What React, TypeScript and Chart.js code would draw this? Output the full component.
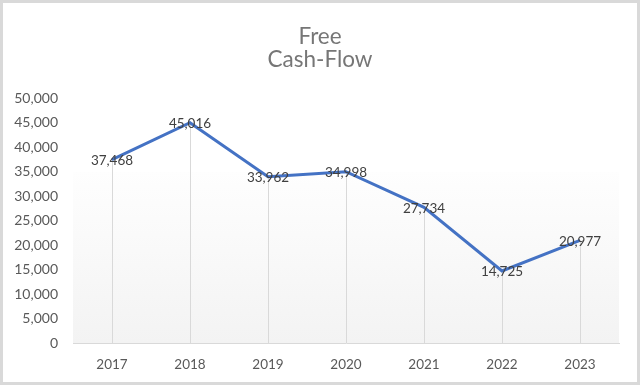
import React, { useEffect, useRef } from "react";
import { Chart, registerables } from "chart.js";

Chart.register(...registerables);

const categories = ["2017", "2018", "2019", "2020", "2021", "2022", "2023"];
const freeCashFlow = [37468, 45016, 33962, 34998, 27734, 14725, 20977];
const titleLines = ["Free", "Cash-Flow"];
const yMin = 0;
const yMax = 50000;
const yStep = 5000;

const FONT = "Lato, 'Noto Sans', sans-serif";

const decorPlugin = {
  id: "decor",
  beforeDraw(chart: any) {
    const { ctx, chartArea, width, height } = chart;
    ctx.save();
    ctx.fillStyle = "#ffffff";
    ctx.fillRect(0, 0, width, height);
    const top = chartArea.top + (chartArea.bottom - chartArea.top) * 0.3;
    const g = ctx.createLinearGradient(0, top, 0, chartArea.bottom);
    g.addColorStop(0, "#fefefe");
    g.addColorStop(1, "#f3f3f3");
    ctx.fillStyle = g;
    ctx.fillRect(chartArea.left, top, chartArea.right - chartArea.left, chartArea.bottom - top);
    ctx.restore();
  },
  beforeDatasetsDraw(chart: any) {
    const { ctx } = chart;
    const meta = chart.getDatasetMeta(0);
    const yScale = chart.scales.y;
    const base = yScale.getPixelForValue(0);
    ctx.save();
    ctx.strokeStyle = "#d9d9d9";
    ctx.lineWidth = 1;
    meta.data.forEach((pt: any) => {
      const x = Math.round(pt.x) + 0.5;
      ctx.beginPath();
      ctx.moveTo(x, pt.y);
      ctx.lineTo(x, base);
      ctx.stroke();
    });
    ctx.restore();
  },
  afterDatasetsDraw(chart: any) {
    const { ctx } = chart;
    const meta = chart.getDatasetMeta(0);
    const data = chart.data.datasets[0].data;
    ctx.save();
    ctx.fillStyle = "#404040";
    ctx.font = `13.5px ${FONT}`;
    ctx.textAlign = "center";
    ctx.textBaseline = "middle";
    meta.data.forEach((pt: any, i: number) => {
      ctx.fillText(Number(data[i]).toLocaleString("en-US"), pt.x, pt.y + 1);
    });
    ctx.restore();
  },
  afterDraw(chart: any) {
    const { ctx, width, height } = chart;
    ctx.save();
    ctx.strokeStyle = "#d9d9d9";
    ctx.lineWidth = 3;
    ctx.strokeRect(1.5, 1.5, width - 3, height - 3);
    ctx.restore();
  },
};

export default function App() {
  const ref = useRef<HTMLCanvasElement>(null);
  useEffect(() => {
    document.body.style.margin = "0";
    const chart = new Chart(ref.current!, {
      type: "line",
      data: {
        labels: categories,
        datasets: [
          {
            data: freeCashFlow,
            borderColor: "#4472C4",
            borderWidth: 3,
            pointRadius: 0,
            tension: 0,
            fill: false,
            yAxisID: "y",
          },
        ],
      },
      options: {
        animation: false,
        responsive: false,
        maintainAspectRatio: false,
        layout: { padding: { left: 0, right: 0, top: 0, bottom: 0 } },
        plugins: {
          legend: { display: false },
          tooltip: { enabled: false },
          title: {
            display: true,
            text: titleLines,
            color: "#767676",
            font: { family: FONT, size: 22.5, weight: "normal", lineHeight: 1.03 },
            padding: { top: 25, bottom: 27 },
          },
        },
        scales: {
          x: {
            grid: { display: false, drawTicks: false },
            border: { display: true, color: "#d9d9d9", width: 1 },
            offset: true,
            ticks: { color: "#595959", font: { family: FONT, size: 13.5 }, padding: 14 },
            afterFit: (scale: any) => {
              scale.height = 42;
            },
          },
          y: {
            min: yMin,
            max: yMax,
            grid: { display: false, drawTicks: false },
            border: { display: false },
            ticks: {
              stepSize: yStep,
              color: "#595959",
              font: { family: FONT, size: 14 },
              padding: 15,
              callback: (v: any) => Number(v).toLocaleString("en-US"),
            },
            afterFit: (scale: any) => {
              scale.width = 73;
            },
          },
          yRight: {
            position: "right",
            display: true,
            min: yMin,
            max: yMax,
            grid: { display: false, drawTicks: false },
            border: { display: false },
            ticks: { display: false },
            afterFit: (scale: any) => {
              scale.width = 21;
            },
          },
        },
      },
      plugins: [decorPlugin],
    });
    return () => chart.destroy();
  }, []);
  return <canvas ref={ref} width={640} height={385} style={{ display: "block" }} />;
}
